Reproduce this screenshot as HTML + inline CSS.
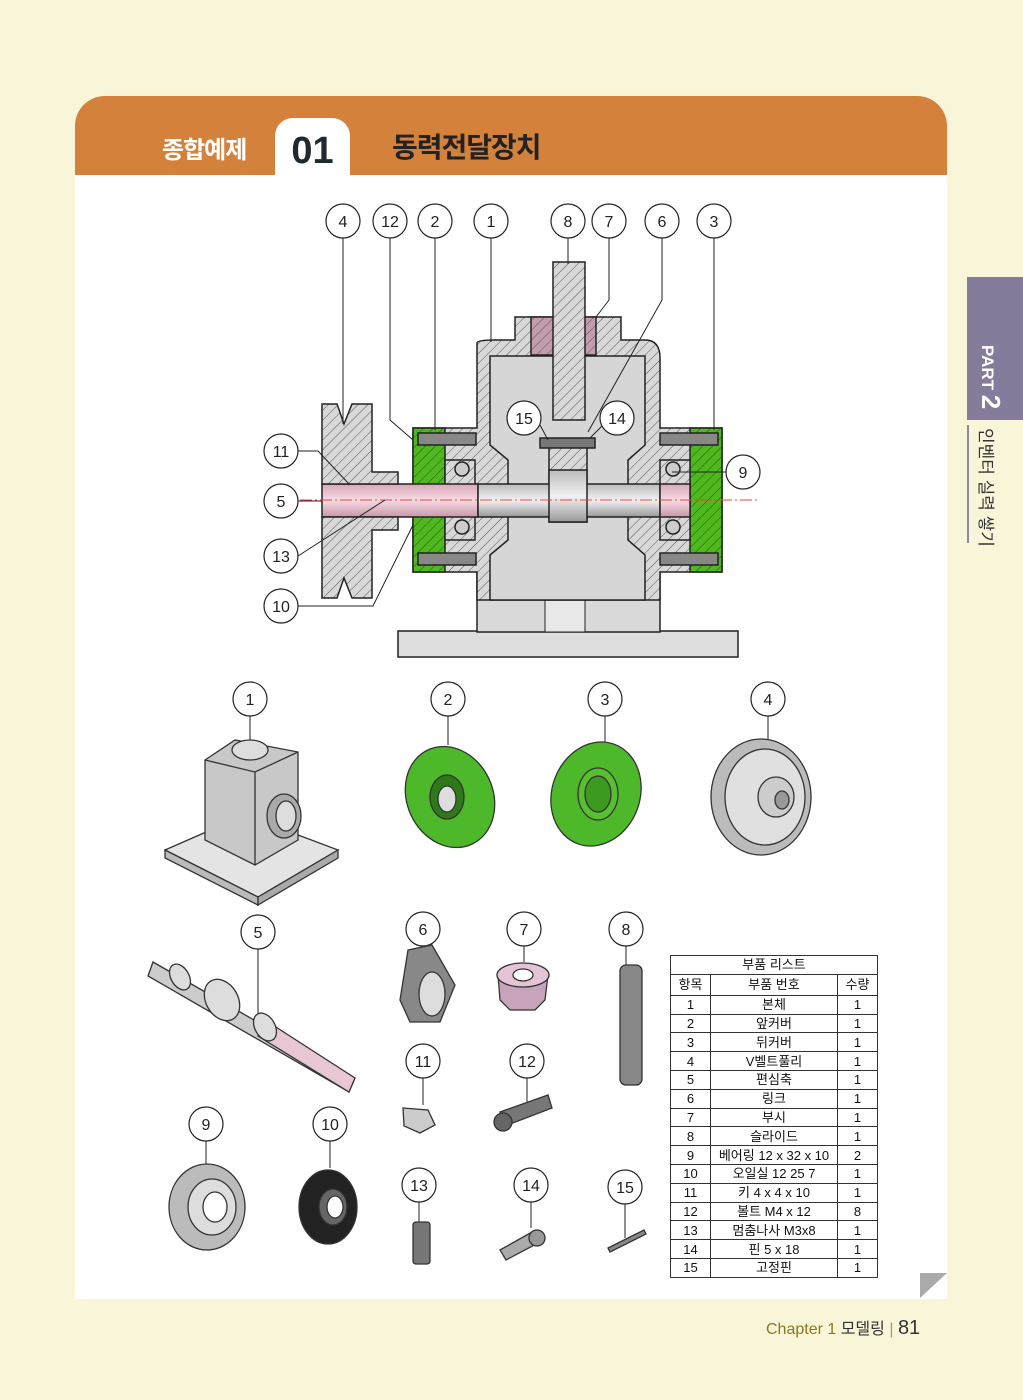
<!DOCTYPE html>
<html><head><meta charset="utf-8"><style>
body{margin:0;width:1023px;height:1400px;background:#f8f5d8;position:relative;overflow:hidden;font-family:"Liberation Sans","Noto Sans CJK KR",sans-serif}
.hdr{position:absolute;left:75px;top:96px;width:872px;height:80px;background:#d4813b;border-radius:30px 30px 0 0}
.panel{position:absolute;left:75px;top:175px;width:872px;height:1124px;background:#fff}
.tab{position:absolute;left:275px;top:118px;width:75px;height:60px;background:#fff;border-radius:18px 18px 0 0;font-weight:bold;font-size:38px;color:#1e2a30;text-align:center;line-height:66px}
.t1{position:absolute;left:162px;top:130px;color:#fff;font-weight:bold;font-size:24px;letter-spacing:-1px}
.t2{position:absolute;left:392px;top:126px;color:#222;font-weight:bold;font-size:28px;letter-spacing:-1px}
.side{position:absolute;left:967px;top:277px;width:56px;height:143px;background:#857b9b}
.sidet{position:absolute;left:975px;top:345px;writing-mode:vertical-rl;text-orientation:sideways;color:#fff;font-weight:bold;font-size:17px}
.sidel{position:absolute;left:967px;top:425px;width:2px;height:118px;background:#8a8aa0}
.sidek{position:absolute;left:975px;top:428px;writing-mode:vertical-rl;text-orientation:sideways;color:#333;font-size:17px}
.foot{position:absolute;left:766px;top:1315px;font-size:16px;color:#333}
table{position:absolute;left:670px;top:955px;border-collapse:collapse;font-size:13px;color:#111}
td{border:1px solid #333;text-align:center;height:17.8px;padding:0;line-height:17px}
</style></head><body>
<div class="hdr"></div><div class="panel"></div>
<div class="tab">01</div>
<div class="t1">종합예제</div><div class="t2">동력전달장치</div>
<div class="side"></div><div class="sidet">PART <span style="font-size:26px">2</span></div>
<div class="sidel"></div><div class="sidek">인벤터 실력 쌓기</div>
<svg style="position:absolute;left:0;top:0" width="1023" height="1400">
<defs>
<pattern id="h" width="7" height="7" patternUnits="userSpaceOnUse" patternTransform="rotate(45)"><rect width="7" height="7" fill="#d8d8d8"/><line x1="0" y1="0" x2="0" y2="7" stroke="#555" stroke-width="1"/></pattern>
<pattern id="hg" width="7" height="7" patternUnits="userSpaceOnUse" patternTransform="rotate(45)"><rect width="7" height="7" fill="#4fb81e"/><line x1="0" y1="0" x2="0" y2="7" stroke="#1c5a0a" stroke-width="1"/></pattern>
<pattern id="hp" width="7" height="7" patternUnits="userSpaceOnUse" patternTransform="rotate(45)"><rect width="7" height="7" fill="#c49cb0"/><line x1="0" y1="0" x2="0" y2="7" stroke="#555" stroke-width="1"/></pattern>
<linearGradient id="gs" x1="0" y1="0" x2="0" y2="1"><stop offset="0" stop-color="#bbb"/><stop offset=".5" stop-color="#f2f2f2"/><stop offset="1" stop-color="#999"/></linearGradient>
<linearGradient id="gp" x1="0" y1="0" x2="0" y2="1"><stop offset="0" stop-color="#d9a8b8"/><stop offset=".5" stop-color="#f6dbe3"/><stop offset="1" stop-color="#c898a8"/></linearGradient>
</defs>
<g stroke="#222" stroke-width="1.5">
<rect x="398" y="631" width="340" height="26" fill="#ddd"/>
<rect x="477" y="572" width="183" height="60" fill="#d9d9d9"/>
<rect x="545" y="590" width="40" height="42" fill="#e8e8e8" stroke-width="1"/>
<path d="M477 343 Q477 340 495 340 L515 340 L515 317 L621 317 L621 340 L645 340 Q660 340 660 358 L660 428 L722 428 L722 572 L660 572 L660 600 L477 600 L477 572 L413 572 L413 428 L477 428 Z" fill="url(#h)"/>
<path d="M490 356 L645 356 L645 445 L628 460 L628 540 L645 555 L645 600 L490 600 L490 555 L508 540 L508 460 L490 445 Z" fill="#d6d6d6"/>
<rect x="531" y="317" width="65" height="38" fill="url(#hp)"/>
<rect x="413" y="428" width="32" height="144" fill="url(#hg)"/>
<rect x="690" y="428" width="32" height="144" fill="url(#hg)"/>
<rect x="445" y="460" width="30" height="80" fill="url(#h)"/>
<rect x="660" y="460" width="30" height="80" fill="url(#h)"/>
<rect x="553" y="262" width="32" height="158" fill="url(#h)"/>
<rect x="549" y="440" width="38" height="82" fill="url(#h)"/>
<rect x="322" y="484" width="156" height="33" fill="url(#gp)"/>
<rect x="478" y="484" width="182" height="33" fill="url(#gs)"/>
<rect x="660" y="484" width="30" height="33" fill="url(#gp)"/>
<rect x="549" y="470" width="38" height="52" fill="url(#gs)"/>
<path d="M322 404 L337 404 L344 424 L352 404 L372 404 L372 472 L398 472 L398 484 L322 484 Z" fill="url(#h)"/>
<path d="M322 517 L398 517 L398 530 L372 530 L372 598 L352 598 L344 578 L337 598 L322 598 Z" fill="url(#h)"/>
<rect x="418" y="433" width="58" height="12" fill="#888"/><rect x="418" y="553" width="58" height="12" fill="#888"/>
<rect x="660" y="433" width="58" height="12" fill="#888"/><rect x="660" y="553" width="58" height="12" fill="#888"/>
<circle cx="462" cy="469" r="7" fill="#ccc"/><circle cx="462" cy="527" r="7" fill="#ccc"/>
<circle cx="673" cy="469" r="7" fill="#ccc"/><circle cx="673" cy="527" r="7" fill="#ccc"/>
<rect x="540" y="438" width="55" height="10" fill="#777"/>
</g>
<line x1="300" y1="500" x2="760" y2="500" stroke="#e44" stroke-width="1" stroke-dasharray="12 3 2 3"/>
<g stroke="#222" stroke-width="1" fill="none">
<path d="M343 238 V424"/><path d="M390 238 V420 L413 440"/><path d="M435 238 V430"/><path d="M491 238 V342"/>
<path d="M568 238 V264"/><path d="M609 238 V300 L596 317"/><path d="M662 238 V300 L588 432"/><path d="M714 238 V430"/>
<path d="M298 451 H318 L350 485"/><path d="M298 501 H322"/><path d="M298 556 L385 500"/><path d="M298 606 H373 L413 525"/>
<path d="M726 472 H672"/><path d="M540 425 L548 440"/><path d="M603 425 L590 438"/>
<path d="M250 716 V745"/><path d="M448 716 V745"/><path d="M605 716 V742"/><path d="M768 716 V740"/>
<path d="M258 949 V1020"/><path d="M423 946 V958"/><path d="M524 946 V962"/><path d="M626 946 V965"/>
<path d="M423 1078 V1105"/><path d="M527 1078 V1102"/><path d="M206 1141 V1166"/><path d="M330 1141 V1168"/>
<path d="M419 1202 V1222"/><path d="M531 1202 V1228"/><path d="M625 1204 V1238"/>
</g>
<g fill="#fff" stroke="#222" stroke-width="1.2" font-size="16" text-anchor="middle" font-family="Liberation Sans,sans-serif">
<g>
<circle cx="343" cy="221" r="17"/><circle cx="390" cy="221" r="17"/><circle cx="435" cy="221" r="17"/><circle cx="491" cy="221" r="17"/><circle cx="568" cy="221" r="17"/><circle cx="609" cy="221" r="17"/><circle cx="662" cy="221" r="17"/><circle cx="714" cy="221" r="17"/>
<circle cx="281" cy="451" r="17"/><circle cx="281" cy="501" r="17"/><circle cx="281" cy="556" r="17"/><circle cx="281" cy="606" r="17"/><circle cx="743" cy="472" r="17"/>
<circle cx="524" cy="418" r="17"/><circle cx="617" cy="418" r="17"/>
<circle cx="250" cy="699" r="17"/><circle cx="448" cy="699" r="17"/><circle cx="605" cy="699" r="17"/><circle cx="768" cy="699" r="17"/>
<circle cx="258" cy="932" r="17"/><circle cx="423" cy="929" r="17"/><circle cx="524" cy="929" r="17"/><circle cx="626" cy="929" r="17"/>
<circle cx="423" cy="1061" r="17"/><circle cx="527" cy="1061" r="17"/><circle cx="206" cy="1124" r="17"/><circle cx="330" cy="1124" r="17"/>
<circle cx="419" cy="1185" r="17"/><circle cx="531" cy="1185" r="17"/><circle cx="625" cy="1187" r="17"/>
</g>
<g fill="#222" stroke="none">
<text x="343" y="227">4</text><text x="390" y="227">12</text><text x="435" y="227">2</text><text x="491" y="227">1</text><text x="568" y="227">8</text><text x="609" y="227">7</text><text x="662" y="227">6</text><text x="714" y="227">3</text>
<text x="281" y="457">11</text><text x="281" y="507">5</text><text x="281" y="562">13</text><text x="281" y="612">10</text><text x="743" y="478">9</text>
<text x="524" y="424">15</text><text x="617" y="424">14</text>
<text x="250" y="705">1</text><text x="448" y="705">2</text><text x="605" y="705">3</text><text x="768" y="705">4</text>
<text x="258" y="938">5</text><text x="423" y="935">6</text><text x="524" y="935">7</text><text x="626" y="935">8</text>
<text x="423" y="1067">11</text><text x="527" y="1067">12</text><text x="206" y="1130">9</text><text x="330" y="1130">10</text>
<text x="419" y="1191">13</text><text x="531" y="1191">14</text><text x="625" y="1193">15</text>
</g></g>
<g stroke="#333" stroke-width="1.3">
<path d="M165 850 L245 815 L338 850 L258 897 Z" fill="#e4e4e4"/>
<path d="M165 850 L258 897 L258 905 L165 858 Z" fill="#bbb"/><path d="M258 897 L338 850 L338 858 L258 905 Z" fill="#aaa"/>
<path d="M205 760 L235 740 L298 752 L298 840 L255 865 L205 840 Z" fill="#c8c8c8"/>
<path d="M205 760 L255 772 L298 752" fill="none"/><path d="M255 772 V865" fill="none"/>
<ellipse cx="250" cy="750" rx="18" ry="10" fill="#ddd"/>
<ellipse cx="284" cy="816" rx="17" ry="22" fill="#aaa"/><ellipse cx="286" cy="816" rx="10" ry="15" fill="#ddd"/>
<ellipse cx="450" cy="797" rx="43" ry="52" fill="#4cb82a" transform="rotate(-25 450 797)"/>
<ellipse cx="447" cy="797" rx="17" ry="22" fill="#2f7a18"/><ellipse cx="447" cy="799" rx="9" ry="13" fill="#ddd"/>
<ellipse cx="596" cy="794" rx="44" ry="53" fill="#4cb82a" transform="rotate(20 596 794)"/>
<ellipse cx="598" cy="794" rx="20" ry="26" fill="#58c030"/><ellipse cx="598" cy="794" rx="13" ry="18" fill="#3d9a20"/>
<ellipse cx="761" cy="797" rx="50" ry="58" fill="#bbb"/><ellipse cx="765" cy="797" rx="40" ry="48" fill="#e0e0e0"/>
<ellipse cx="776" cy="797" rx="18" ry="20" fill="#ccc"/><ellipse cx="782" cy="800" rx="7" ry="9" fill="#999"/>
<path d="M153 962 L355 1078 L349 1092 L148 976 Z" fill="#ccc"/>
<path d="M265 1020 L355 1078 L349 1092 L258 1036 Z" fill="#e9c6d4"/>
<ellipse cx="180" cy="977" rx="9" ry="14" fill="#ddd" transform="rotate(-30 180 977)"/>
<ellipse cx="222" cy="1000" rx="16" ry="22" fill="#ddd" transform="rotate(-30 222 1000)"/>
<ellipse cx="265" cy="1027" rx="10" ry="15" fill="#ddd" transform="rotate(-30 265 1027)"/>
<path d="M408 950 L432 945 L455 985 L440 1022 L410 1022 L400 1000 Z" fill="#888"/><ellipse cx="432" cy="994" rx="13" ry="22" fill="#ddd"/>
<path d="M498 975 L548 975 L545 1000 L535 1010 L510 1010 L500 1000 Z" fill="#c8a4bc"/>
<ellipse cx="523" cy="975" rx="26" ry="12" fill="#e4c4d6"/><ellipse cx="523" cy="975" rx="10" ry="6" fill="#fff"/>
<rect x="620" y="965" width="22" height="120" rx="6" fill="#888"/>
<path d="M403 1108 L428 1110 L435 1125 L420 1133 L404 1126 Z" fill="#ccc"/>
<path d="M500 1112 L548 1095 L552 1108 L505 1126 Z" fill="#777"/><circle cx="503" cy="1122" r="9" fill="#666"/>
<ellipse cx="207" cy="1207" rx="38" ry="43" fill="#bbb"/><ellipse cx="212" cy="1207" rx="24" ry="28" fill="#ddd"/><ellipse cx="215" cy="1207" rx="12" ry="15" fill="#fff"/>
<ellipse cx="328" cy="1207" rx="29" ry="37" fill="#222"/><ellipse cx="333" cy="1207" rx="14" ry="18" fill="#666"/><ellipse cx="335" cy="1207" rx="8" ry="11" fill="#fff"/>
<rect x="413" y="1222" width="17" height="42" rx="3" fill="#777"/>
<path d="M500 1250 L532 1232 L540 1242 L506 1260 Z" fill="#aaa"/><circle cx="537" cy="1238" r="8" fill="#999"/>
<path d="M608 1248 L644 1230 L646 1234 L610 1252 Z" fill="#888"/>
</g>
<path d="M920 1273 L947 1273 L920 1298 Z" fill="#aaa"/>
</svg>
<table>
<tr><td colspan="3" style="width:205px">부품 리스트</td></tr>
<tr><td style="width:39px;height:20px">항목</td><td style="width:126px">부품 번호</td><td style="width:39px">수량</td></tr>
<tr><td>1</td><td>본체</td><td>1</td></tr><tr><td>2</td><td>앞커버</td><td>1</td></tr><tr><td>3</td><td>뒤커버</td><td>1</td></tr>
<tr><td>4</td><td>V벨트풀리</td><td>1</td></tr><tr><td>5</td><td>편심축</td><td>1</td></tr><tr><td>6</td><td>링크</td><td>1</td></tr>
<tr><td>7</td><td>부시</td><td>1</td></tr><tr><td>8</td><td>슬라이드</td><td>1</td></tr><tr><td>9</td><td>베어링 12 x 32 x 10</td><td>2</td></tr>
<tr><td>10</td><td>오일실 12 25 7</td><td>1</td></tr><tr><td>11</td><td>키 4 x 4 x 10</td><td>1</td></tr><tr><td>12</td><td>볼트 M4 x 12</td><td>8</td></tr>
<tr><td>13</td><td>멈춤나사 M3x8</td><td>1</td></tr><tr><td>14</td><td>핀 5 x 18</td><td>1</td></tr><tr><td>15</td><td>고정핀</td><td>1</td></tr>
</table>
<div class="foot"><span style="color:#8a7a1a">Chapter 1</span> 모델링 <span style="color:#999">|</span> <span style="font-size:20px">81</span></div>
</body></html>
